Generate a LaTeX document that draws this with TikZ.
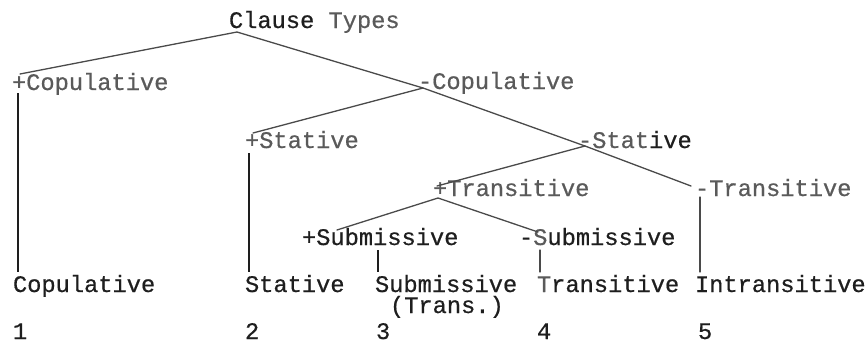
\documentclass[tikz,border=0pt]{standalone}
\usepackage{fontspec}
\setmainfont{Liberation Mono}
\newfontfamily\tw[FakeBold=0.6]{Liberation Mono}
\usetikzlibrary{calc}
\definecolor{ink}{HTML}{1E1E1E}
\definecolor{faded}{HTML}{5A5A5A}
\definecolor{wire}{HTML}{4A4A4A}
\begin{document}
\begin{tikzpicture}[x=1pt,y=-1pt,
  lbl/.style={anchor=base west,inner sep=0pt,outer sep=0pt,text=ink,font=\tw\fontsize{23.7}{28}\selectfont},
  flbl/.style={lbl,text=faded},
  branch/.style={draw=wire,line width=1.3pt,line cap=round},
  stem/.style={draw=ink,line width=1.4pt}]
\useasboundingbox[fill=white] (0,0) rectangle (868,343);
% labels
\node[lbl] (ct) at (229,28) {Clause \textcolor{faded}{Types}};
\node[flbl] (pc) at (12,90) {+Copulative};
\node[flbl] (mc) at (418,89) {-Copulative};
\node[flbl] (ps) at (245,148) {+Stative};
\node[lbl] (ms) at (578,148) {\textcolor{faded}{-Stat}ive};
\node[flbl] (pt) at (433,196) {+Transitive};
\node[flbl] (mt) at (695,196) {-Transitive};
\node[lbl] (psub) at (302,245) {+Submissive};
\node[lbl] (msub) at (519,245) {-\textcolor{faded}{S}ubmissive};
% leaves
\node[lbl] (lcop) at (13,292) {Copulative};
\node[lbl] (lsta) at (245,292) {Stative};
\node[lbl] (lsub) at (375,292) {Submissive};
\node[lbl] (ltrs) at (390,313) {(Trans.)};
\node[lbl] (ltra) at (537,292) {\textcolor{faded}{T}ransitive};
\node[lbl] (lint) at (695,292) {Intransitive};
% numbers
\node[lbl] (n1) at (13,339) {1};
\node[lbl] (n2) at (245,339) {2};
\node[lbl] (n3) at (376,339) {3};
\node[lbl] (n4) at (537,339) {4};
\node[lbl] (n5) at (698,339) {5};
% branches
\draw[branch] ($(pc.base west)+(8,-16)$) -- ($(ct.base west)+(8,4)$) -- ($(mc.base west)+(5,-1)$);
\draw[branch] ($(ps.base west)+(8,-15)$) -- ($(mc.base west)+(5,-1)$) -- ($(ms.base west)+(7,-2)$);
\draw[branch] ($(pt.base west)+(4,-10)$) -- ($(ms.base west)+(7,-2)$) -- ($(mt.base west)+(-4,-10)$);
\draw[branch] ($(psub.base west)+(35,-15)$) -- ($(pt.base west)+(5,2)$) -- ($(msub.base west)+(19,-13)$);
% stems
\draw[stem] ($(pc.base west)+(6,3)$) -- ($(lcop.base west)+(5,-20)$);
\draw[stem] ($(ps.base west)+(4,5)$) -- ($(lsta.base west)+(4,-20)$);
\draw[stem,line width=1.1pt] ($(psub.base west)+(76,5)$) -- ($(lsub.base west)+(3,-20)$);
\draw[branch] ($(msub.base west)+(21,5)$) -- ($(ltra.base west)+(3,-20)$);
\draw[branch] ($(mt.base west)+(5,1)$) -- ($(lint.base west)+(5,-20)$);
\end{tikzpicture}
\end{document}
